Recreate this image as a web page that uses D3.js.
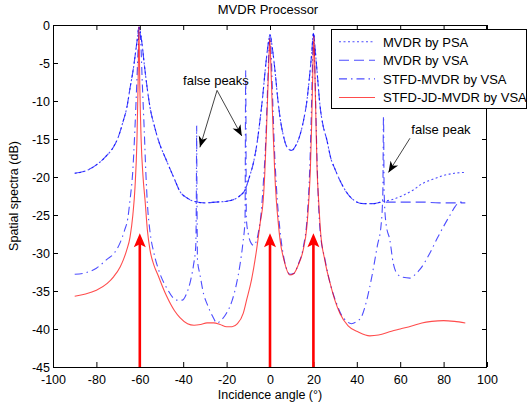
<!DOCTYPE html>
<html>
<head>
<meta charset="utf-8">
<script src="https://cdn.jsdelivr.net/npm/d3@7"></script>
<style>
body { margin: 0; background: #fff; }
text { font-family: "Liberation Sans", Arial, sans-serif; fill: #000; }
</style>
</head>
<body>
<div id="chart"></div>
<script>
/*
 * MVDR Processor - spatial spectra of four beamformers.
 * Values are [angle (deg), spectrum (dB)].
 */
var xTicks = [-100, -80, -60, -40, -20, 0, 20, 40, 60, 80, 100];
var yTicks = [0, -5, -10, -15, -20, -25, -30, -35, -40, -45];

var seriesNames = ["MVDR by PSA", "MVDR by VSA", "STFD-MVDR by VSA", "STFD-JD-MVDR by VSA"];

var psa = [[-90,-19.5],[-85,-19.2],[-80,-18.4],[-75,-17.1],[-72,-16],[-70,-14.8],[-67.6,-12.6],[-66,-10.9],
	[-64.5,-8.3],[-63,-5.8],[-62,-3.7],[-61,-1.5],[-60.5,-0.3],[-60,-0.6],[-59,-2.4],[-58,-5],[-57,-7.4],
	[-55.3,-10.8],[-53,-13.6],[-51.5,-15.1],[-47.6,-17.9],[-44,-20.3],[-41.5,-21.9],[-38,-22.8],[-35,-23.2],
	[-30,-23.4],[-25,-23.3],[-20,-23.2],[-17,-23],[-14,-22.5],[-11.5,-21.7],[-9.5,-20],[-7.7,-18.2],
	[-6,-15.6],[-4.6,-12.5],[-3.3,-9.2],[-2.2,-5.9],[-1.2,-3.3],[0,-1.3],[1.2,-3.3],[2.3,-6],[3.5,-9.5],
	[4.8,-12.5],[6.2,-14.6],[7.7,-16],[10,-16.5],[12,-15.8],[13.8,-14.5],[15.5,-12.5],[17,-10],[18.2,-6.8],
	[19.2,-3.8],[20,-1.1],[21,-3.8],[21.8,-6.5],[23,-10.5],[24.5,-13.3],[26.1,-15],[28,-17.5],[30,-19],
	[32.3,-20.5],[35,-21.9],[38.4,-23],[43,-23.5],[48,-23.5],[52,-23.2],[56,-23],[61.4,-22.4],[66,-21.7],
	[70,-20.9],[75,-20.3],[80,-19.8],[85,-19.5],[90,-19.4]];

var vsa = [[-90,-19.5],[-85,-19.2],[-80,-18.4],[-75,-17.1],[-72,-16],[-70,-14.8],[-67.6,-12.6],[-66,-10.9],
	[-64.5,-8.3],[-63,-5.8],[-62,-3.7],[-61,-1.5],[-60.5,-0.3],[-60,-0.6],[-59,-2.4],[-58,-5],[-57,-7.4],
	[-55.3,-10.8],[-53,-13.6],[-51.5,-15.1],[-47.6,-17.9],[-44,-20.3],[-41.5,-21.9],[-38,-22.8],[-35,-23.2],
	[-30,-23.4],[-25,-23.3],[-20,-23.2],[-17,-23],[-14,-22.5],[-11.5,-21.7],[-9.5,-20],[-7.7,-18.2],
	[-6,-15.6],[-4.6,-12.5],[-3.3,-9.2],[-2.2,-5.9],[-1.2,-3.3],[0,-1.3],[1.2,-3.3],[2.3,-6],[3.5,-9.5],
	[4.8,-12.5],[6.2,-14.6],[7.7,-16],[10,-16.5],[12,-15.8],[13.8,-14.5],[15.5,-12.5],[17,-10],[18.2,-6.8],
	[19.2,-3.8],[20,-1.1],[21,-3.8],[21.8,-6.5],[23,-10.5],[24.5,-13.3],[26.1,-15],[28,-17.5],[30,-19],
	[32.3,-20.5],[35,-21.9],[38.4,-23],[43,-23.5],[48,-23.5],[52,-23.3],[56,-23.3],[62,-23.3],[70,-23.3],
	[78,-23.4],[85,-23.4],[90,-23.4]];

var stfd = [[-90,-32.8],[-85,-32.6],[-80,-32],[-75,-30.8],[-72,-30.1],[-69,-28.6],[-67,-27],[-65.5,-25.4],
	[-64.5,-23],[-63.3,-19.5],[-62.3,-14],[-61.3,-7],[-60.6,-2],[-60.2,-0.3],[-59.6,-2],[-58.8,-8],
	[-58,-13.5],[-57.2,-19.5],[-56.5,-23.5],[-55.3,-27.2],[-53.5,-30],[-51,-32.5],[-47.6,-34.6],[-43,-36.2],
	[-40.5,-36.2],[-38.4,-35.3],[-36.5,-33.5],[-35.2,-31.5],[-34.2,-29],[-33.9,-20],[-33.8,-13.3],[-33.7,-20],
	[-33.4,-31],[-32.3,-32.8],[-30.5,-35.5],[-29,-36.7],[-26.5,-38.3],[-24.5,-39.2],[-22,-38.7],[-20,-37.9],
	[-17.5,-36.3],[-15.4,-34],[-13.8,-31.5],[-12.5,-28.7],[-11.5,-25.5],[-11.2,-6],[-10.9,-25.5],[-10,-27.5],
	[-8.5,-28.8],[-7.5,-29],[-5.5,-27.5],[-4,-24.5],[-3,-20.5],[-2,-15.5],[-1.2,-9],[-0.5,-3.5],[0,-1.6],
	[0.5,-3.5],[1.2,-9.5],[2,-16],[3,-21.5],[4.6,-27],[6.5,-30.8],[9.2,-32.8],[11,-32.7],[13,-31.5],
	[15.3,-29.3],[17.2,-25],[18.3,-19],[19.1,-11],[19.6,-5],[20.1,-1.2],[20.6,-5],[21.1,-11],[21.8,-19],
	[23,-26.8],[25.3,-30.8],[28,-34.3],[30.5,-36.5],[33,-38.2],[35,-38.9],[37.5,-39.3],[40,-39],
	[42.3,-38.3],[44.5,-36.3],[47,-33],[49.5,-29],[51.2,-26.3],[52,-22],[52.3,-12],[52.6,-22],[53.4,-26],
	[55.3,-28.4],[56.7,-31.2],[58.5,-32.7],[61.3,-33.2],[64.5,-33.3],[67,-32.8],[69,-32.2],[73.7,-30],
	[77,-28.1],[80,-26.5],[83,-25],[85.3,-23.9],[87.5,-23.3],[90,-23.3]];

var stfdJd = [[-90,-35.7],[-85,-35.4],[-80,-34.9],[-75,-34],[-72,-33.1],[-69,-31.8],[-67.6,-30.9],
	[-66,-29.6],[-64.5,-27.9],[-63.2,-25],[-62.2,-21.3],[-61.3,-15],[-60.8,-8],[-60.4,-0.2],[-60,-8],
	[-59.4,-15],[-58.5,-20],[-57.6,-23],[-56.5,-27],[-55.3,-29.6],[-53.5,-31.6],[-51.5,-33],[-49,-34.8],
	[-47.6,-35.7],[-44,-37.6],[-41.5,-38.5],[-38,-39.3],[-35,-39.5],[-32,-39.4],[-29,-39.2],[-26,-39.2],
	[-23,-39.4],[-20,-39.7],[-17.5,-39.7],[-15,-39.3],[-12.3,-37.9],[-10.8,-36.2],[-8.5,-33.5],
	[-6.2,-29.6],[-4.5,-26],[-3.1,-23],[-2.4,-19.5],[-1.7,-14.5],[-1.1,-9.5],[-0.5,-4.5],[-0.1,-1.8],
	[0.3,-4.5],[0.9,-9.5],[1.5,-14.5],[2.2,-19.5],[2.9,-23],[3.8,-26],[4.6,-28.2],[6.5,-31],[9.2,-32.9],
	[11,-32.7],[13,-31.6],[15.3,-29.6],[17,-26.5],[17.9,-23],[18.6,-19],[19.2,-13],[19.7,-6.5],[20.2,-1.5],
	[20.7,-6.5],[21.2,-13],[21.7,-19],[22.4,-23],[23.3,-27.2],[25.3,-31],[28,-34.3],[30,-36.3],[32.3,-38],
	[36,-39.6],[40.7,-40.4],[46,-40.9],[50,-40.8],[56,-40.3],[60,-40],[65.3,-39.6],[70,-39.2],[74.5,-39],
	[80,-38.9],[85,-39],[90,-39.2]];

// Red arrows marking the true directions of arrival
var trueAngles = [-60, 0, 20];
var arrowTipDb = -27.4;

// Annotations: label position, arrow start and arrow tips (angle, dB)
var noteTexts = ["false peaks", "false peak"];
var noteTextPos = [[-24.9, -7.9], [78.8, -14.3]];
var noteStart = [[-24.4, -8.6], [64.5, -14.9]];
var noteTips = [[[-32.3, -16.1], [-13, -14.6]], [[54.6, -19.4]]];

var width = 530;
var height = 404;
var plot = {left: 53, right: 487, top: 25, bottom: 367};
var font = "'Liberation Sans', Arial, sans-serif";

var svg = d3.select("#chart").append("svg")
	.attr("width", width)
	.attr("height", height);

svg.append("rect").attr("width", width).attr("height", height).attr("fill", "#fff");

var x = d3.scaleLinear().domain([-100, 100]).range([plot.left, plot.right]);
var y = d3.scaleLinear().domain([-45, 0]).range([plot.bottom, plot.top]);

// plain hyphen as minus, like the original figure
var fmt = function(d) { return String(d); };

/*
 * Axes: ticks point inwards on all four sides, labels only on bottom and left
 */
var gx = svg.append("g")
	.attr("transform", "translate(0," + plot.bottom + ")")
	.call(d3.axisBottom(x).tickValues(xTicks).tickFormat(fmt).tickSizeInner(-5).tickSizeOuter(0).tickPadding(8));
var gy = svg.append("g")
	.attr("transform", "translate(" + plot.left + ",0)")
	.call(d3.axisLeft(y).tickValues(yTicks).tickFormat(fmt).tickSizeInner(-5).tickSizeOuter(0).tickPadding(3));
svg.append("g")
	.attr("transform", "translate(0," + plot.top + ")")
	.call(d3.axisTop(x).tickValues(xTicks).tickSizeInner(-5).tickSizeOuter(0).tickFormat(""));
svg.append("g")
	.attr("transform", "translate(" + plot.right + ",0)")
	.call(d3.axisRight(y).tickValues(yTicks).tickSizeInner(-5).tickSizeOuter(0).tickFormat(""));

svg.selectAll(".domain").remove();
svg.selectAll(".tick line").attr("stroke", "#000");
gx.selectAll("text").style("font-size", "12.5px").style("font-family", font);
gy.selectAll("text").style("font-size", "12.5px").style("font-family", font);

svg.append("rect")
	.attr("x", plot.left + 0.5).attr("y", plot.top + 0.5)
	.attr("width", plot.right - plot.left - 1).attr("height", plot.bottom - plot.top)
	.attr("fill", "none").attr("stroke", "#000").attr("stroke-width", 1);

/*
 * Spectrum curves
 */
var line = d3.line()
	.x(function(d) { return x(d[0]); })
	.y(function(d) { return y(d[1]); })
	.curve(d3.curveMonotoneX);

var styles = [
	{data: psa, color: "#0000ff", dash: "2,2.5", opacity: 0.7},
	{data: vsa, color: "#0000ff", dash: "10,5", opacity: 0.7},
	{data: stfd, color: "#0000ff", dash: "8,4,1.5,4", opacity: 0.7},
	{data: stfdJd, color: "#ff0000", dash: null, opacity: 0.7}
];

styles.forEach(function(s) {
	svg.append("path")
		.attr("d", line(s.data))
		.attr("fill", "none")
		.attr("stroke", s.color)
		.attr("stroke-opacity", s.opacity)
		.attr("stroke-width", 1.1)
		.attr("stroke-dasharray", s.dash);
});

/*
 * Thick red arrows at the true angles
 */
trueAngles.forEach(function(a) {
	var cx = x(a), tip = y(arrowTipDb);
	svg.append("line")
		.attr("x1", cx).attr("x2", cx)
		.attr("y1", y(-45)).attr("y2", tip + 10)
		.attr("stroke", "#ff0000").attr("stroke-width", 2.6);
	svg.append("path")
		.attr("d", "M" + cx + "," + tip + "L" + (cx + 6) + "," + (tip + 14) + "L" + cx + "," + (tip + 11) +
			"L" + (cx - 6) + "," + (tip + 14) + "Z")
		.attr("fill", "#ff0000");
});

/*
 * Annotations with black arrows
 */
function arrowHead(x0, y0, x1, y1) {
	var ang = Math.atan2(y1 - y0, x1 - x0);
	var len = 11, half = 4.5;
	var bx = x1 - len * Math.cos(ang), by = y1 - len * Math.sin(ang);
	var nx = -Math.sin(ang), ny = Math.cos(ang);
	var mx = x1 - (len - 3) * Math.cos(ang), my = y1 - (len - 3) * Math.sin(ang);
	return "M" + x1 + "," + y1 + "L" + (bx + nx * half) + "," + (by + ny * half) + "L" + mx + "," + my +
		"L" + (bx - nx * half) + "," + (by - ny * half) + "Z";
}

noteTexts.forEach(function(t, i) {
	svg.append("text")
		.attr("x", x(noteTextPos[i][0])).attr("y", y(noteTextPos[i][1]))
		.attr("text-anchor", "middle")
		.style("font-size", "13px")
		.text(t);
	noteTips[i].forEach(function(tp) {
		var x0 = x(noteStart[i][0]), y0 = y(noteStart[i][1]);
		var x1 = x(tp[0]), y1 = y(tp[1]);
		svg.append("line")
			.attr("x1", x0).attr("y1", y0).attr("x2", x1).attr("y2", y1)
			.attr("stroke", "#444").attr("stroke-width", 1);
		svg.append("path").attr("d", arrowHead(x0, y0, x1, y1)).attr("fill", "#000");
	});
});

/*
 * Titles
 */
svg.append("text")
	.attr("x", 268).attr("y", 13.5)
	.attr("text-anchor", "middle")
	.style("font-size", "13px")
	.text("MVDR Processor");

svg.append("text")
	.attr("x", (plot.left + plot.right) / 2).attr("y", 399)
	.attr("text-anchor", "middle")
	.style("font-size", "12.5px")
	.text("Incidence angle (°)");

svg.append("text")
	.attr("transform", "translate(17.5," + ((plot.top + plot.bottom) / 2) + ") rotate(-90)")
	.attr("text-anchor", "middle")
	.style("font-size", "12.5px")
	.text("Spatial spectra (dB)");

/*
 * Legend
 */
var legend = svg.append("g").attr("transform", "translate(331.5,29.5)");
legend.append("rect")
	.attr("width", 195).attr("height", 79)
	.attr("fill", "#fff").attr("stroke", "#000").attr("stroke-width", 1);

seriesNames.forEach(function(name, i) {
	var ry = 12.2 + i * 18.6;
	legend.append("line")
		.attr("x1", 7.5).attr("x2", 43.5).attr("y1", ry).attr("y2", ry)
		.attr("stroke", styles[i].color)
		.attr("stroke-opacity", styles[i].opacity)
		.attr("stroke-width", 1.1)
		.attr("stroke-dasharray", styles[i].dash);
	legend.append("text")
		.attr("x", 51.5).attr("y", ry + 4.8)
		.style("font-size", "13px")
		.text(name);
});
</script>
</body>
</html>
